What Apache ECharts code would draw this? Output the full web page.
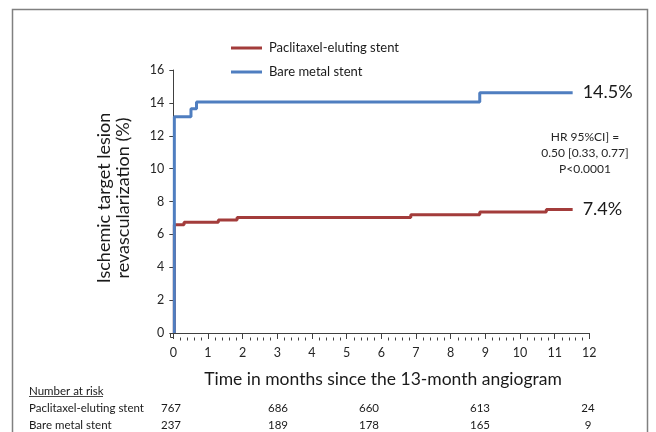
<!DOCTYPE html>
<html>
<head>
<meta charset="utf-8">
<script src="https://cdn.jsdelivr.net/npm/echarts@6/dist/echarts.min.js"></script>
<style>
html,body{margin:0;padding:0;background:#fff;}
#chart{width:656px;height:432px;}
</style>
</head>
<body>
<div id="chart"></div>
<script>
// ---- data ----
const seriesNames = ['Paclitaxel-eluting stent', 'Bare metal stent'];
const pesTimes  = [0.03, 0.03, 0.31, 1.30, 1.84, 6.85, 8.84, 10.76, 11.52];
const pesValues = [0,    6.58, 6.74, 6.87, 7.02, 7.20, 7.36, 7.52,  7.52];
const bmsTimes  = [0.03, 0.03,  0.51,  0.67,  8.84,  11.52];
const bmsValues = [0,    13.15, 13.65, 14.05, 14.62, 14.62];
const endLabels = ['7.4%', '14.5%'];
const hrText = ['HR 95%CI] =', '0.50 [0.33, 0.77]', 'P<0.0001'];
const riskTitle = 'Number at risk';
const riskPES = ['767', '686', '660', '613', '24'];
const riskBMS = ['237', '189', '178', '165', '9'];
const xTitle = 'Time in months since the 13-month angiogram';
const yTitle = ['Ischemic target lesion', 'revascularization (%)'];

// ---- layout (styling only) ----
const riskX = [171, 278, 369, 480, 588];
const FONT = 'Lato, "Open Sans", sans-serif';
const RED = '#A33C3B';
const BLUE = '#4F7EC0';
const AXIS = '#404040';
const X_MINOR_SPLIT = 5;

function pairs(ts, vs){ return ts.map((t,i)=>[t, vs[i]]); }

const chart = echarts.init(document.getElementById('chart'), null, {renderer:'canvas'});

const graphics = [
  {type:'rect', shape:{x:12.5, y:9.5, width:635, height:450}, style:{fill:'none', stroke:'#808080', lineWidth:1.5}, silent:true},
  {type:'text', x:114, y:198, rotation:Math.PI/2,
    style:{text:yTitle.join('\n'), align:'center', verticalAlign:'middle', fontSize:18, lineHeight:19, fontFamily:FONT, fill:'#1a1a1a'}},
  {type:'text', x:383, y:379,
    style:{text:xTitle, align:'center', verticalAlign:'middle', fontSize:17.5, fontFamily:FONT, fill:'#1a1a1a'}},
  {type:'text', x:585, y:153,
    style:{text:hrText.join('\n'), align:'center', verticalAlign:'middle', fontSize:12, lineHeight:16, fontFamily:FONT, fill:'#262626'}},
  {type:'text', x:29, y:391,
    style:{text:riskTitle, align:'left', verticalAlign:'middle', fontSize:11.5, fontFamily:FONT, fill:'#1a1a1a'}},
  {type:'line', shape:{x1:29, y1:396.5, x2:103, y2:396.5}, style:{stroke:'#1a1a1a', lineWidth:0.8}},
  {type:'text', x:29, y:408,
    style:{text:seriesNames[0], align:'left', verticalAlign:'middle', fontSize:11.5, fontFamily:FONT, fill:'#1a1a1a'}},
  {type:'text', x:29, y:425,
    style:{text:seriesNames[1], align:'left', verticalAlign:'middle', fontSize:11.5, fontFamily:FONT, fill:'#1a1a1a'}}
];
riskPES.forEach((v,i)=>graphics.push({type:'text', x:riskX[i], y:408,
  style:{text:v, align:'center', verticalAlign:'middle', fontSize:11.5, fontFamily:FONT, fill:'#1a1a1a'}}));
riskBMS.forEach((v,i)=>graphics.push({type:'text', x:riskX[i], y:425,
  style:{text:v, align:'center', verticalAlign:'middle', fontSize:11.5, fontFamily:FONT, fill:'#1a1a1a'}}));

function endLabel(text){
  return {show:true, formatter:text, distance:10, fontSize:18, fontFamily:FONT, color:'#1a1a1a'};
}

const X_OFFSET = 4, Y_OFFSET = 3;

chart.setOption({
  animation:false,
  backgroundColor:'#fff',
  grid:{left:173.3, right:656-589.3, top:70, bottom:432-333},
  legend:{
    orient:'vertical', left:226, top:35,
    itemWidth:31, itemHeight:3, itemGap:8, icon:'rect',
    textStyle:{fontSize:13, fontFamily:FONT, color:'#1a1a1a', lineHeight:16, padding:[0,0,0,2]},
    data:seriesNames
  },
  xAxis:{
    type:'value', min:0, max:12, interval:1, offset:X_OFFSET,
    axisLine:{show:true, lineStyle:{color:AXIS, width:1}},
    axisTick:{show:true, length:6, inside:false, lineStyle:{color:AXIS}},
    axisLabel:{fontSize:12.5, fontFamily:FONT, color:'#262626', margin:9},
    splitLine:{show:false}
  },
  yAxis:{
    type:'value', min:0, max:16, interval:2, offset:Y_OFFSET,
    axisLine:{show:true, lineStyle:{color:AXIS, width:1}},
    axisTick:{show:true, length:4, lineStyle:{color:AXIS}},
    axisLabel:{fontSize:12.5, fontFamily:FONT, color:'#262626', margin:6},
    splitLine:{show:false}
  },
  series:[
    {name:seriesNames[0], type:'line', step:'end', showSymbol:false, symbol:'none',
     data:pairs(pesTimes, pesValues), lineStyle:{color:RED, width:3}, itemStyle:{color:RED},
     endLabel:endLabel(endLabels[0])},
    {name:seriesNames[1], type:'line', step:'end', showSymbol:false, symbol:'none',
     data:pairs(bmsTimes, bmsValues), lineStyle:{color:BLUE, width:3}, itemStyle:{color:BLUE},
     endLabel:endLabel(endLabels[1])}
  ],
  graphic:graphics
});

// minor ticks on the x axis and the axis corner, placed through the axis scale
const xAxisModel = chart.getModel().getComponent('xAxis', 0);
const ext = xAxisModel.axis.scale.getExtent();
const y0 = chart.convertToPixel({yAxisIndex:0}, 0);
const axisY = Math.round(y0 + X_OFFSET) + 0.5;
const xLeft = chart.convertToPixel({xAxisIndex:0}, ext[0]);
const extra = [];
for (let m = ext[0]; m < ext[1]; m += 1) {
  for (let k = 1; k < X_MINOR_SPLIT; k++) {
    const px = Math.round(chart.convertToPixel({xAxisIndex:0}, m + k / X_MINOR_SPLIT)) + 0.5;
    extra.push({type:'line', shape:{x1:px, y1:axisY, x2:px, y2:axisY + 3}, style:{stroke:AXIS, lineWidth:1}, silent:true});
  }
}
const yAxisX = Math.round(xLeft - Y_OFFSET) + 0.5;
extra.push({type:'line', shape:{x1:yAxisX, y1:y0, x2:yAxisX, y2:axisY}, style:{stroke:AXIS, lineWidth:1}, silent:true});
extra.push({type:'line', shape:{x1:yAxisX, y1:axisY, x2:xLeft, y2:axisY}, style:{stroke:AXIS, lineWidth:1}, silent:true});
chart.setOption({graphic: graphics.concat(extra)});
</script>
</body>
</html>
